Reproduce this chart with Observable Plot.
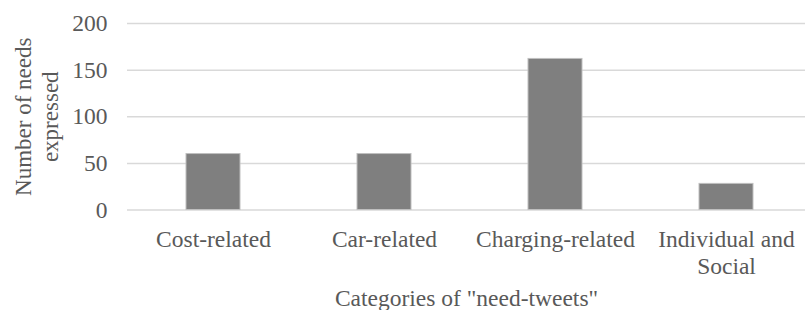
<!DOCTYPE html>
<html>
<head>
<meta charset="utf-8">
<script src="https://cdn.jsdelivr.net/npm/d3@7"></script>
<script src="https://cdn.jsdelivr.net/npm/@observablehq/plot@0.6"></script>
<style>
  html, body { margin: 0; padding: 0; background: #fff; }
</style>
</head>
<body>
<div id="chart"></div>
<script>
const categories = ["Cost-related", "Car-related", "Charging-related", "Individual and\nSocial"];
const values = [60, 60, 162, 28];
const yTicks = [0, 50, 100, 150, 200];
const xTitle = "Categories of \"need-tweets\"";
const yTitle = "Number of needs\nexpressed";

const data = categories.map((c, i) => ({category: c, value: values[i]}));

const FONT = "'Liberation Serif', 'Times New Roman', serif";
const TEXT = "#595959";

const chart = Plot.plot({
  width: 805,
  height: 310,
  marginLeft: 127,
  marginRight: 0,
  marginTop: 23,
  marginBottom: 100.5,
  style: {fontFamily: FONT, color: TEXT, background: "#fff", overflow: "visible"},
  x: {domain: categories, range: [127, 812], paddingInner: 0.685, paddingOuter: 0.3425, label: null},
  y: {domain: [0, 200], range: [209.5, 23], label: null},
  marks: [
    Plot.ruleY(yTicks, {stroke: "#d9d9d9", strokeWidth: 1.5}),
    Plot.barY(data, {x: "category", y: "value", fill: "#7f7f7f", stroke: "#bfbfbf", strokeWidth: 1}),
    Plot.axisY(yTicks, {tickSize: 0, tickPadding: 20, fontSize: 23.5, label: null}),
    Plot.axisX({tickSize: 0, tickPadding: 17, fontSize: 23.5, lineHeight: 1.17, label: null}),
    Plot.text([xTitle], {frameAnchor: "bottom", dy: 88, fontSize: 23.5, fill: TEXT, textAnchor: "middle", lineAnchor: "middle"}),
    Plot.text([yTitle], {frameAnchor: "left", dx: -92, rotate: -90, fontSize: 23, lineHeight: 1.17, fill: TEXT, textAnchor: "middle", lineAnchor: "middle"})
  ]
});
document.getElementById("chart").appendChild(chart);
</script>
</body>
</html>
